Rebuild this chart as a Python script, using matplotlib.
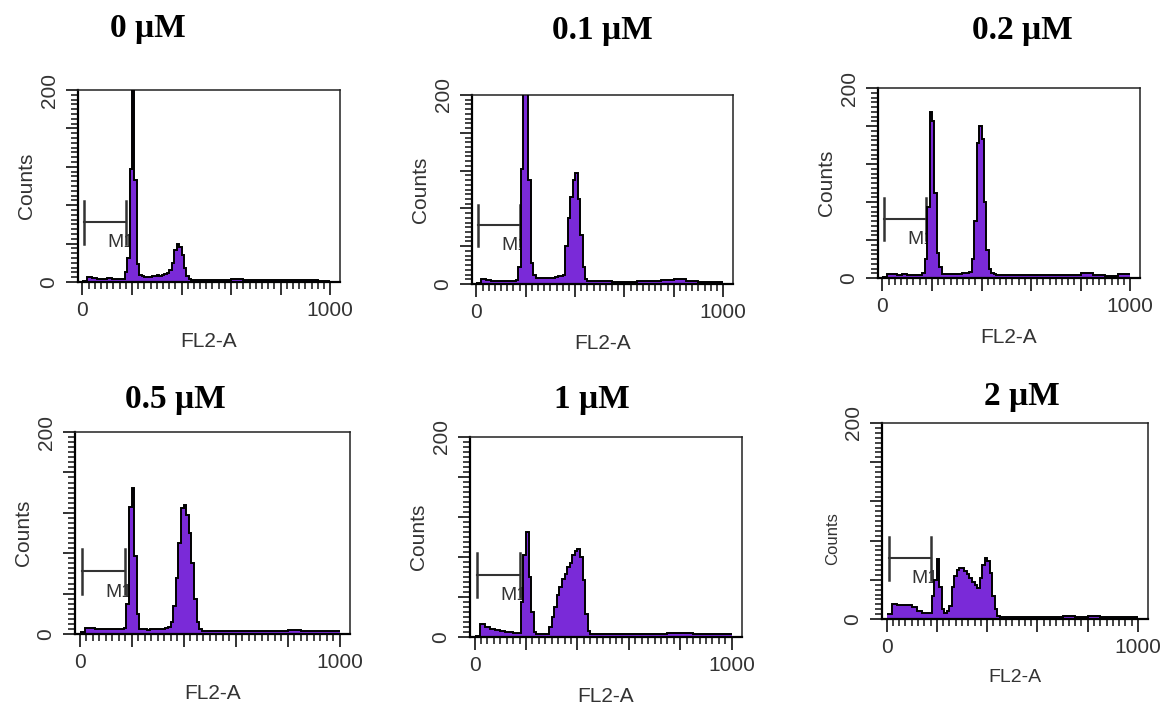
import matplotlib.pyplot as plt
import numpy as np

W, H = 1169, 708
OUT = "out.png"

TITLES = ["0 μM", "0.1 μM", "0.2 μM", "0.5 μM", "1 μM", "2 μM"]

# FL2-A bin edges: coarse at low end, 10-channel bins across G1/G2, coarse above 500
EDGES = np.r_[np.arange(0, 140, 20), np.arange(140, 500, 10), np.arange(500, 1001, 50)]

# counts per bin (values above 200 are off-scale, clipped by the axes)
COUNTS_0 = [1, 5, 4, 3, 3, 4, 3,
            3, 3, 3, 10, 25, 118, 240, 106, 19, 7,
            6, 5, 5, 5, 6, 6, 7, 6, 7, 8,
            9, 12, 20, 33, 40, 36, 28, 15, 6, 3,
            2, 2, 2, 2, 2, 2,
            2, 2, 3, 2, 2, 2, 2, 2, 2, 1]
COUNTS_01 = [1, 5, 4, 3, 3, 3, 3,
             3, 3, 4, 18, 122, 240, 240, 110, 22, 10,
             6, 6, 6, 6, 6, 6, 6, 6, 7, 8,
             8, 9, 40, 70, 92, 110, 117, 90, 52, 18,
             5, 3, 3, 3, 3, 3,
             3, 2, 2, 3, 3, 4, 5, 3, 2, 2]
COUNTS_02 = [1, 4, 4, 3, 4, 3, 3,
             3, 3, 5, 20, 75, 175, 165, 89, 26, 12,
             4, 4, 4, 4, 4, 4, 4, 4, 5, 5,
             5, 6, 20, 60, 142, 160, 146, 80, 30, 10,
             5, 4, 3, 3, 3, 3,
             3, 3, 3, 3, 3, 3, 5, 3, 2, 4]
COUNTS_05 = [2, 6, 6, 5, 5, 5, 5,
             5, 5, 5, 6, 30, 126, 145, 77, 20, 5,
             5, 5, 4, 5, 5, 5, 5, 5, 5, 6,
             7, 12, 28, 55, 90, 125, 128, 118, 100, 70,
             35, 12, 5, 3, 3, 3,
             3, 3, 3, 3, 3, 3, 4, 3, 3, 3]
COUNTS_1 = [1, 13, 10, 8, 7, 6, 5,
            5, 4, 4, 4, 35, 82, 105, 60, 25, 5,
            3, 3, 3, 3, 3, 10, 20, 30, 42, 50,
            58, 63, 70, 74, 82, 86, 88, 80, 57, 23,
            6, 3, 3, 3, 3, 3,
            3, 3, 3, 3, 3, 4, 4, 3, 3, 3]
COUNTS_2 = [5, 15, 14, 14, 14, 12, 8,
            6, 6, 6, 6, 23, 40, 61, 33, 10, 6,
            8, 13, 33, 44, 50, 52, 52, 49, 46, 42,
            38, 35, 32, 42, 55, 62, 59, 47, 23, 10,
            3, 2, 2, 2, 2, 2,
            2, 2, 2, 2, 3, 2, 3, 2, 2, 2]
ALL_COUNTS = [COUNTS_0, COUNTS_01, COUNTS_02, COUNTS_05, COUNTS_1, COUNTS_2]

# M1 gate marker (FL2-A range and height in counts)
M1_SPAN = (8, 175)
M1_LEVEL = 62

# axes boxes in pixels: left, top, right, bottom
BOXES = [(78, 90, 340, 282), (472, 95, 733, 284), (878, 88, 1140, 278),
         (75, 432, 350, 634), (470, 437, 742, 637), (882, 423, 1148, 619)]
TITLE_XY = [(148, 29), (602, 30), (1022, 31), (175, 399), (592, 399), (1022, 397)]
YLABEL_SIZE = [15, 15, 15, 15, 15, 12]
XLABEL_SIZE = [15, 15, 15, 15, 15, 14]
YLABEL_POS = [0.5, 0.5, 0.5, 0.5, 0.5, 0.41]  # vertical centre of "Counts", axes fraction

PURPLE = "#7A2AD8"
INK = "#333333"


def draw_panel(fig, box, counts, xl_size, yl_size, yl_pos):
    l, t, r, b = box
    ax = fig.add_axes([l / W, 1 - b / H, (r - l) / W, (b - t) / H])
    ax.stairs(counts, EDGES, fill=True, color=PURPLE, lw=0, zorder=2)
    ax.stairs(counts, EDGES, color="black", lw=1.4, baseline=None, zorder=3)

    x0, x1 = M1_SPAN
    ax.plot([x0, x1], [M1_LEVEL, M1_LEVEL], color=INK, lw=1.5, zorder=1)
    for xx in (x0, x1):
        ax.plot([xx, xx], [M1_LEVEL - 22, M1_LEVEL + 22], color=INK, lw=1.8, zorder=1)
    ax.text(100, 41, "M1", fontsize=14, color=INK, ha="left", va="center",
            family="Liberation Sans", zorder=1)

    ax.set_xlim(-18, 1040)
    ax.set_ylim(0, 200)
    ax.set_xticks(np.arange(0, 1001, 200))
    ax.set_xticklabels(["0", "", "", "", "", "1000"])
    ax.set_xticks(np.arange(0, 1001, 25), minor=True)
    ax.set_yticks(np.arange(0, 201, 40))
    ax.set_yticklabels(["0", "", "", "", "", "200"])
    ax.set_yticks(np.arange(0, 201, 5), minor=True)
    ax.tick_params(which="major", length=9, width=1.3, color="#222", pad=5,
                   labelsize=15, labelcolor=INK)
    ax.tick_params(which="minor", length=5, width=1.2, color="#222")
    ax.tick_params(axis="y", labelrotation=90)
    for lab in ax.get_yticklabels():
        lab.set_va("center")
        lab.set_family("Liberation Sans")
    for lab in ax.get_xticklabels():
        lab.set_family("Liberation Sans")

    for side in ("left", "bottom"):
        ax.spines[side].set_linewidth(1.6)
        ax.spines[side].set_color("black")
    for side in ("top", "right"):
        ax.spines[side].set_linewidth(1.1)
        ax.spines[side].set_color("#222")

    ax.set_xlabel("FL2-A", fontsize=xl_size, color=INK, family="Liberation Sans",
                  labelpad=8)
    ax.set_ylabel("Counts", fontsize=yl_size, color=INK, family="Liberation Sans")
    ax.yaxis.set_label_coords(-42 / (r - l), yl_pos)
    return ax


def main():
    fig = plt.figure(figsize=(W / 100, H / 100), dpi=100)
    for i, (box, counts) in enumerate(zip(BOXES, ALL_COUNTS)):
        draw_panel(fig, box, counts, XLABEL_SIZE[i], YLABEL_SIZE[i], YLABEL_POS[i])
    for (tx, ty), title in zip(TITLE_XY, TITLES):
        fig.text(tx / W, 1 - ty / H, title, ha="center", va="center",
                 fontsize=24, fontweight="bold", family="Liberation Serif")
    fig.savefig(OUT, dpi=100)
    plt.close(fig)


if __name__ == "__main__":
    main()
